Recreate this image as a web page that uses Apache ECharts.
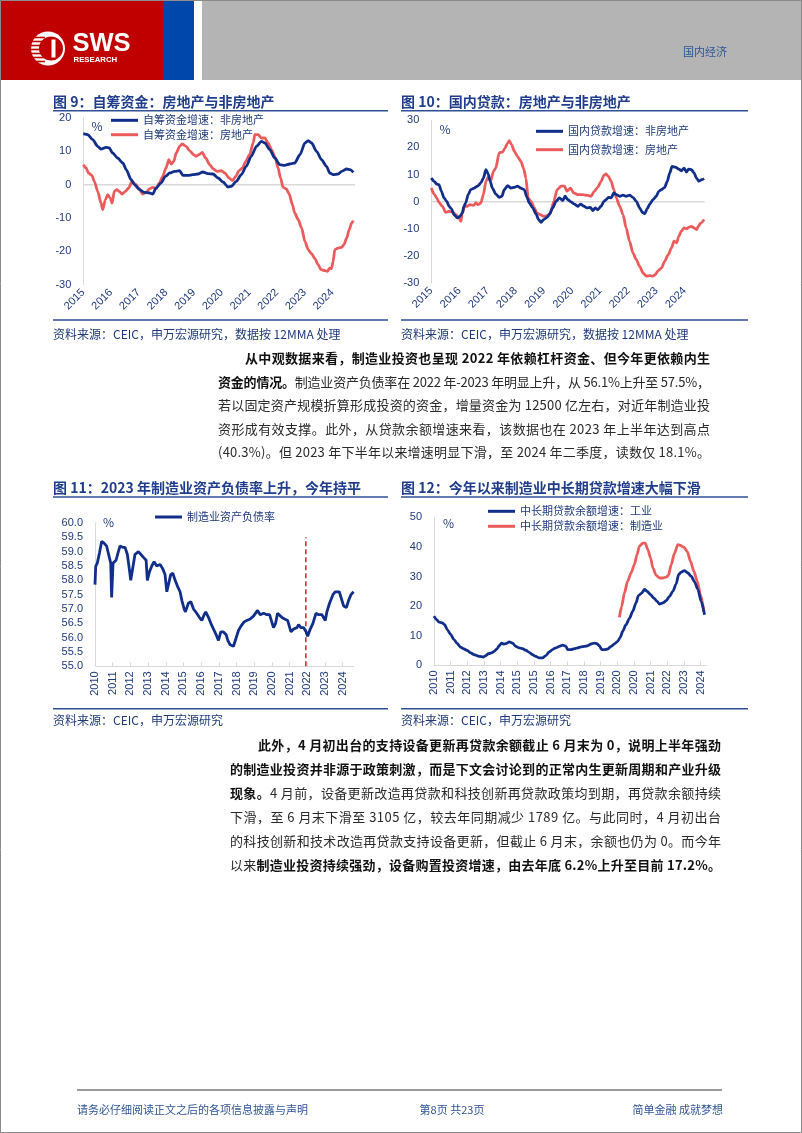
<!DOCTYPE html>
<html><head><meta charset="utf-8">
<script src="https://cdn.jsdelivr.net/npm/echarts@6/dist/echarts.min.js"></script>
<style>
html,body{margin:0;padding:0;background:#fff;}
#page{position:relative;width:802px;height:1133px;overflow:hidden;background:#fff;}
#chart{position:absolute;left:0;top:0;width:802px;height:1133px;}
.ln{position:absolute;height:20px;line-height:20px;font-family:"Noto Sans CJK SC",sans-serif;font-size:13px;color:#2a2a2a;white-space:nowrap;}
.ln b{font-weight:700;color:#111;}
</style></head><body>
<div id="page">
<div id="chart"></div>
<div class="ln" data-w="465" style="left:245px;top:348px;"><b>从中观数据来看，制造业投资也呈现 2022 年依赖杠杆资金、但今年更依赖内生</b></div>
<div class="ln" data-w="492" style="left:218px;top:371.5px;"><b>资金的情况。</b>制造业资产负债率在 2022 年-2023 年明显上升，从 56.1%上升至 57.5%，</div>
<div class="ln" data-w="492" style="left:218px;top:395px;">若以固定资产规模折算形成投资的资金，增量资金为 12500 亿左右，对近年制造业投</div>
<div class="ln" data-w="492" style="left:218px;top:418.5px;">资形成有效支撑。此外，从贷款余额增速来看，该数据也在 2023 年上半年达到高点</div>
<div class="ln" data-w="492" style="left:218px;top:442px;">(40.3%)。但 2023 年下半年以来增速明显下滑，至 2024 年二季度，读数仅 18.1%。</div>

<div class="ln" data-w="463" style="left:258px;top:735px;"><b>此外，4 月初出台的支持设备更新再贷款余额截止 6 月末为 0，说明上半年强劲</b></div>
<div class="ln" data-w="491" style="left:230px;top:759px;"><b>的制造业投资并非源于政策刺激，而是下文会讨论到的正常内生更新周期和产业升级</b></div>
<div class="ln" data-w="491" style="left:230px;top:783px;"><b>现象。</b>4 月前，设备更新改造再贷款和科技创新再贷款政策均到期，再贷款余额持续</div>
<div class="ln" data-w="491" style="left:230px;top:807px;">下滑，至 6 月末下滑至 3105 亿，较去年同期减少 1789 亿。与此同时，4 月初出台</div>
<div class="ln" data-w="491" style="left:230px;top:831px;">的科技创新和技术改造再贷款支持设备更新，但截止 6 月末，余额也仍为 0。而今年</div>
<div class="ln" data-w="491" style="left:230px;top:855px;">以来<b>制造业投资持续强劲，设备购置投资增速，由去年底 6.2%上升至目前 17.2%。</b></div>
</div>
<script>
// ---------- DATA ----------
// Fig 9: self-raised funds growth (%), [decimal year, value]
const C9_NONRE = [[2015.00,15.3],[2015.16,15.0],[2015.34,13.5],[2015.52,11.5],[2015.64,10.7],[2015.82,11.2],[2015.94,11.0],[2016.06,9.5],[2016.24,8.0],[2016.43,6.5],[2016.55,4.5],[2016.73,1.5],[2016.85,0.0],[2017.03,-1.5],[2017.21,-2.3],[2017.39,-2.5],[2017.51,-2.8],[2017.63,-1.0],[2017.81,0.5],[2017.97,2.5],[2018.12,3.5],[2018.30,4.0],[2018.48,4.2],[2018.60,2.8],[2018.78,2.8],[2018.96,3.0],[2019.14,3.2],[2019.32,3.8],[2019.50,3.3],[2019.69,3.2],[2019.87,2.0],[2020.05,0.8],[2020.23,-0.7],[2020.35,-0.5],[2020.53,1.0],[2020.71,3.0],[2020.89,5.5],[2021.07,8.5],[2021.26,11.5],[2021.44,13.0],[2021.56,12.5],[2021.74,10.5],[2021.92,8.0],[2022.10,6.0],[2022.28,5.8],[2022.46,6.2],[2022.64,6.5],[2022.83,9.0],[2023.01,12.5],[2023.13,13.2],[2023.25,12.5],[2023.43,10.0],[2023.61,7.5],[2023.79,5.5],[2023.91,3.5],[2024.03,3.0],[2024.21,3.2],[2024.34,4.0],[2024.52,4.7],[2024.64,4.5],[2024.76,3.7]];
const C9_RE = [[2015.00,6.0],[2015.10,5.0],[2015.19,3.5],[2015.31,2.8],[2015.40,1.0],[2015.52,-2.0],[2015.64,-5.5],[2015.70,-7.5],[2015.80,-4.5],[2015.88,-3.0],[2015.97,-4.0],[2016.04,-5.5],[2016.12,-2.0],[2016.21,-1.5],[2016.30,-2.0],[2016.40,-2.8],[2016.52,-2.0],[2016.64,-1.0],[2016.76,1.0],[2016.88,0.2],[2017.00,-1.0],[2017.15,-2.8],[2017.27,-2.3],[2017.39,-1.3],[2017.51,-0.8],[2017.63,-1.2],[2017.75,0.5],[2017.87,2.5],[2017.99,5.0],[2018.09,7.5],[2018.18,6.2],[2018.27,7.0],[2018.36,9.5],[2018.48,11.5],[2018.57,12.2],[2018.72,11.5],[2018.84,10.2],[2018.99,9.0],[2019.08,8.5],[2019.18,9.0],[2019.30,9.7],[2019.42,8.0],[2019.57,6.0],[2019.69,4.8],[2019.83,4.0],[2019.99,4.2],[2020.11,3.5],[2020.27,2.0],[2020.39,1.2],[2020.51,2.5],[2020.63,4.2],[2020.75,5.0],[2020.87,7.0],[2021.01,9.0],[2021.14,12.5],[2021.20,15.0],[2021.32,15.0],[2021.44,14.0],[2021.56,14.0],[2021.68,12.5],[2021.80,10.5],[2021.92,8.5],[2022.04,5.0],[2022.13,2.0],[2022.22,-0.8],[2022.34,-1.3],[2022.44,-2.8],[2022.56,-6.0],[2022.64,-8.5],[2022.77,-10.5],[2022.89,-13.0],[2023.01,-17.0],[2023.13,-19.5],[2023.25,-20.7],[2023.37,-22.2],[2023.49,-24.0],[2023.59,-25.5],[2023.73,-25.8],[2023.82,-26.0],[2023.91,-25.0],[2023.97,-25.2],[2024.03,-23.0],[2024.09,-19.5],[2024.21,-19.0],[2024.34,-18.8],[2024.42,-18.0],[2024.52,-16.0],[2024.61,-13.5],[2024.70,-11.5],[2024.76,-10.8]];
// Fig 10: domestic loans growth (%)
const C10_NONRE = [[2015.00,8.7],[2015.10,7.5],[2015.19,6.5],[2015.27,6.3],[2015.36,3.8],[2015.45,1.4],[2015.55,0.1],[2015.63,-1.7],[2015.71,-2.6],[2015.81,-4.8],[2015.93,-6.0],[2016.02,-5.4],[2016.10,-4.2],[2016.16,-1.7],[2016.22,-0.5],[2016.31,2.6],[2016.40,4.4],[2016.52,5.0],[2016.64,5.7],[2016.76,6.9],[2016.85,8.7],[2016.94,11.8],[2017.02,10.2],[2017.09,7.5],[2017.17,5.0],[2017.29,2.8],[2017.41,1.6],[2017.51,2.0],[2017.59,4.4],[2017.71,5.9],[2017.83,5.0],[2017.95,5.3],[2018.06,5.7],[2018.18,5.0],[2018.30,4.4],[2018.40,1.6],[2018.48,-0.5],[2018.60,-2.3],[2018.72,-4.5],[2018.81,-6.6],[2018.90,-7.6],[2018.99,-6.6],[2019.11,-5.8],[2019.19,-4.8],[2019.31,-2.3],[2019.43,0.1],[2019.55,1.4],[2019.67,0.4],[2019.75,2.0],[2019.85,0.7],[2019.96,-0.1],[2020.08,-0.9],[2020.20,-1.7],[2020.30,-0.9],[2020.42,-1.7],[2020.53,-2.3],[2020.65,-2.1],[2020.74,-3.3],[2020.82,-2.3],[2020.91,-3.0],[2021.03,-1.7],[2021.13,0.1],[2021.21,0.7],[2021.29,1.6],[2021.39,1.4],[2021.48,3.2],[2021.57,2.6],[2021.69,2.0],[2021.81,2.4],[2021.92,2.0],[2022.04,2.4],[2022.16,1.6],[2022.28,0.1],[2022.40,-2.3],[2022.49,-3.9],[2022.58,-4.5],[2022.67,-2.6],[2022.76,-0.9],[2022.87,0.7],[2022.99,2.0],[2023.08,3.8],[2023.17,4.4],[2023.29,5.3],[2023.38,7.5],[2023.47,10.6],[2023.55,13.0],[2023.67,12.7],[2023.79,12.0],[2023.88,11.4],[2023.98,12.4],[2024.06,10.9],[2024.14,12.0],[2024.24,11.8],[2024.33,10.6],[2024.42,8.7],[2024.50,7.5],[2024.60,8.1],[2024.69,8.5]];
const C10_RE = [[2015.00,5.0],[2015.10,2.8],[2015.19,1.4],[2015.27,-0.2],[2015.39,-1.7],[2015.51,-3.9],[2015.63,-3.6],[2015.75,-3.8],[2015.87,-4.8],[2015.99,-6.0],[2016.05,-7.3],[2016.10,-4.2],[2016.19,-1.7],[2016.28,-1.7],[2016.38,-1.1],[2016.50,-1.4],[2016.58,-0.5],[2016.66,-1.1],[2016.76,-0.5],[2016.85,2.6],[2016.94,7.5],[2017.02,9.0],[2017.11,7.7],[2017.21,11.2],[2017.29,12.4],[2017.41,18.0],[2017.53,18.3],[2017.61,19.6],[2017.71,21.6],[2017.77,22.5],[2017.85,21.0],[2017.95,18.6],[2018.06,16.7],[2018.18,14.9],[2018.28,12.2],[2018.36,8.7],[2018.44,1.4],[2018.54,0.1],[2018.66,-2.3],[2018.75,-4.2],[2018.87,-4.8],[2018.99,-5.4],[2019.11,-5.2],[2019.23,-4.2],[2019.35,0.1],[2019.47,4.4],[2019.61,5.7],[2019.73,5.7],[2019.82,3.8],[2019.94,5.0],[2020.06,3.2],[2020.20,2.6],[2020.38,2.6],[2020.56,2.3],[2020.67,2.0],[2020.79,3.8],[2020.91,5.3],[2021.03,7.5],[2021.13,9.7],[2021.21,10.2],[2021.29,9.3],[2021.39,7.5],[2021.48,4.4],[2021.57,1.4],[2021.69,-1.7],[2021.81,-4.8],[2021.92,-9.7],[2022.04,-14.6],[2022.16,-18.9],[2022.28,-21.4],[2022.40,-23.9],[2022.52,-26.3],[2022.64,-27.5],[2022.76,-27.3],[2022.87,-27.5],[2022.96,-26.9],[2023.05,-25.5],[2023.17,-24.5],[2023.29,-22.0],[2023.41,-19.6],[2023.53,-17.1],[2023.62,-14.6],[2023.71,-15.2],[2023.79,-12.8],[2023.88,-10.9],[2023.98,-9.7],[2024.06,-10.0],[2024.14,-9.5],[2024.24,-9.1],[2024.33,-9.7],[2024.42,-10.3],[2024.48,-9.1],[2024.57,-7.9],[2024.69,-6.6]];
// Fig 11: manufacturing asset-liability ratio (%)
const C11_RATIO = [[2010.00,57.85],[2010.04,58.49],[2010.13,58.6],[2010.25,58.95],[2010.38,59.36],[2010.51,59.3],[2010.66,59.19],[2010.81,58.8],[2010.89,58.6],[2010.94,57.4],[2011.02,58.6],[2011.19,58.7],[2011.32,59.0],[2011.42,59.2],[2011.57,59.15],[2011.70,59.15],[2011.83,58.9],[2011.94,58.4],[2012.02,58.0],[2012.13,57.95],[2012.26,58.9],[2012.45,59.0],[2012.60,58.9],[2012.74,58.8],[2012.89,58.7],[2012.96,58.0],[2013.08,58.3],[2013.21,58.5],[2013.34,58.65],[2013.49,58.5],[2013.68,58.55],[2013.83,58.4],[2013.96,58.2],[2014.06,57.6],[2014.15,57.6],[2014.28,58.2],[2014.40,58.25],[2014.53,58.0],[2014.66,57.8],[2014.81,57.6],[2014.91,57.3],[2015.04,57.0],[2015.11,56.9],[2015.28,57.2],[2015.42,57.25],[2015.57,57.0],[2015.75,56.85],[2015.91,56.7],[2016.04,56.6],[2016.17,56.8],[2016.26,56.9],[2016.42,56.7],[2016.55,56.5],[2016.70,56.3],[2016.85,56.1],[2016.98,55.9],[2017.11,56.2],[2017.26,56.2],[2017.42,56.1],[2017.51,55.9],[2017.64,55.75],[2017.83,55.7],[2017.92,55.75],[2018.11,56.25],[2018.25,56.4],[2018.43,56.55],[2018.58,56.6],[2018.77,56.65],[2018.96,56.75],[2019.19,56.95],[2019.34,56.8],[2019.53,56.85],[2019.72,56.8],[2019.87,56.8],[2020.09,56.35],[2020.21,56.5],[2020.32,56.85],[2020.43,56.9],[2020.57,56.7],[2020.72,56.65],[2020.89,56.6],[2021.08,56.2],[2021.23,56.3],[2021.42,56.35],[2021.51,56.45],[2021.64,56.35],[2021.79,56.35],[2021.94,56.2],[2022.02,56.05],[2022.17,56.3],[2022.32,56.5],[2022.49,56.85],[2022.64,56.8],[2022.83,56.8],[2022.92,56.85],[2023.02,56.6],[2023.11,56.9],[2023.26,57.2],[2023.45,57.5],[2023.58,57.6],[2023.81,57.6],[2023.91,57.6],[2024.06,57.1],[2024.21,57.05],[2024.34,57.3],[2024.47,57.5],[2024.62,57.6]];
const C11_DIVIDER = [[2021.92,55.0],[2021.92,59.5]];
// Fig 12: medium/long-term loan balance growth (%), x = label slot index
const C12_TICKS = ['2010','2011','2012','2013','2014','2015','2015','2016','2017','2018','2019','2020','2020','2021','2022','2023','2024'];
const C12_IND = [[0.00,16.6],[0.16,15.4],[0.30,14.6],[0.50,14.3],[0.64,13.7],[0.80,12.0],[1.00,10.4],[1.20,8.7],[1.40,7.3],[1.60,6.1],[1.80,5.5],[2.00,5.0],[2.20,4.2],[2.40,3.6],[2.71,3.0],[2.97,2.8],[3.11,3.3],[3.25,3.9],[3.45,4.2],[3.61,4.7],[3.77,5.5],[3.91,6.6],[4.05,7.5],[4.17,7.2],[4.31,7.3],[4.51,7.9],[4.71,7.5],[4.91,6.4],[5.11,5.9],[5.31,5.6],[5.51,5.1],[5.71,4.4],[5.91,3.6],[6.11,3.0],[6.31,2.5],[6.51,2.5],[6.71,3.3],[6.91,4.5],[7.11,5.3],[7.31,5.9],[7.52,6.4],[7.72,6.8],[7.92,6.4],[8.02,5.3],[8.22,5.3],[8.42,5.6],[8.62,5.9],[8.82,6.2],[9.02,6.4],[9.22,6.6],[9.42,7.2],[9.62,7.5],[9.78,7.3],[9.92,6.6],[10.06,5.3],[10.22,5.3],[10.42,5.5],[10.62,6.4],[10.82,7.2],[11.02,8.1],[11.18,9.5],[11.32,11.5],[11.52,13.7],[11.72,15.8],[11.92,18.2],[12.12,21.1],[12.26,23.5],[12.46,24.4],[12.63,25.6],[12.79,25.0],[12.99,23.9],[13.19,22.7],[13.39,21.6],[13.53,20.7],[13.73,21.1],[13.93,21.8],[14.13,23.3],[14.33,25.0],[14.53,27.5],[14.67,30.6],[14.83,31.5],[15.03,32.0],[15.23,31.2],[15.43,30.1],[15.63,28.2],[15.83,25.6],[16.03,21.6],[16.23,17.1]];
const C12_MFG = [[11.12,16.2],[11.26,19.9],[11.42,24.4],[11.62,28.4],[11.82,31.2],[12.02,34.0],[12.18,37.4],[12.32,40.2],[12.53,41.3],[12.67,41.3],[12.83,39.1],[12.99,36.3],[13.13,32.9],[13.33,30.4],[13.53,29.5],[13.73,29.5],[13.93,29.8],[14.07,30.4],[14.23,34.0],[14.43,37.9],[14.63,40.8],[14.79,40.5],[14.99,39.9],[15.19,38.5],[15.39,35.1],[15.59,31.8],[15.79,28.4],[15.99,23.9],[16.19,18.2]];

const X9 = [2015, 2024.82], X10 = [2015, 2024.71], X11 = [2010, 2024.62], X12 = [0, 16.33];

// ---------- STYLE ----------
const LAT = '"Liberation Sans","Noto Sans CJK SC",sans-serif';
const CJK = '"Noto Sans CJK SC","Liberation Sans",sans-serif';
const NAVY = '#102e8a', CORAL = '#ec5b5b', LBL = '#1f3b7c', AX = '#d9d9d9';
const TITLE = '#1f3d8c', RULE = '#2f4f96', FOOT = '#2f5597';

const isInt = v => Math.abs(v - Math.round(v)) < 1e-6;

function yAxis(gi, min, max, interval, fmt) {
  return { type: 'value', gridIndex: gi, min, max, interval,
    axisLine: { show: true, lineStyle: { color: AX, width: 1 } },
    axisTick: { show: false }, splitLine: { show: false },
    axisLabel: { color: LBL, fontSize: 11, fontFamily: LAT, margin: 12, formatter: fmt } };
}
function xAxis(gi, ext, rotate, margin, fmt, showLine) {
  return { type: 'value', gridIndex: gi, min: ext[0], max: ext[1], interval: 1,
    axisLine: { show: !!showLine, onZero: false, lineStyle: { color: AX, width: 1 } },
    axisTick: { show: !!showLine, inside: true, length: 4, lineStyle: { color: AX } },
    splitLine: { show: false },
    axisLabel: { color: LBL, fontSize: 11, fontFamily: LAT, rotate, margin,
      showMaxLabel: false, formatter: fmt } };
}
function line(name, gi, data, color, extra) {
  return Object.assign({ name, type: 'line', xAxisIndex: gi, yAxisIndex: gi, data,
    showSymbol: false, symbol: 'none', smooth: 0.25, smoothMonotone: 'x',
    lineStyle: { color, width: 2.8 }, itemStyle: { color }, z: 3, silent: true }, extra || {});
}
function legend(name, left, cy) {
  return { data: [name], left, top: cy - 7, padding: 0, orient: 'horizontal',
    icon: 'rect', itemWidth: 27, itemHeight: 3, selectedMode: false,
    textStyle: { fontSize: 11, color: LBL, fontFamily: CJK, lineHeight: 14 } };
}
function txt(text, x, y, size, color) {
  return { type: 'text', x, y, silent: true,
    style: { text, fontSize: size, fontFamily: CJK, fill: color, align: 'left', verticalAlign: 'middle' } };
}
function btxt(text, x, y) {
  return { type: 'text', x, y, silent: true,
    style: { text, fontSize: 14, fontWeight: 'bold', fontFamily: CJK, fill: TITLE, align: 'left', verticalAlign: 'middle' } };
}
function hline(x1, x2, y, color, w) {
  return { type: 'line', silent: true, shape: { x1, y1: y, x2, y2: y }, style: { stroke: color, lineWidth: w } };
}

const yearFmt = v => isInt(v) ? String(Math.round(v)) : '';
const slotFmt = v => isInt(v) ? (C12_TICKS[Math.round(v)] || '') : '';

const S9A = '自筹资金增速：非房地产', S9B = '自筹资金增速：房地产';
const S10A = '国内贷款增速：非房地产', S10B = '国内贷款增速：房地产';
const S11 = '制造业资产负债率';
const S12A = '中长期贷款余额增速：工业', S12B = '中长期贷款余额增速：制造业';

const option = {
  animation: false,
  grid: [
    { left: 83.3, top: 118, width: 271.7, height: 166.7 },
    { left: 431.3, top: 120.3, width: 273.4, height: 162.7 },
    { left: 95, top: 523, width: 258.6, height: 143.3 },
    { left: 434, top: 517.3, width: 272.2, height: 148 }
  ],
  xAxis: [
    xAxis(0, X9, 45, 6, yearFmt, false),
    xAxis(1, X10, 45, 6, yearFmt, false),
    xAxis(2, X11, 90, 5, yearFmt, true),
    xAxis(3, X12, 90, 5, slotFmt, true)
  ],
  yAxis: [
    yAxis(0, -30, 20, 10),
    yAxis(1, -30, 30, 10),
    yAxis(2, 55, 60, 0.5, v => v.toFixed(1)),
    yAxis(3, 0, 50, 10)
  ],
  legend: [
    legend(S9A, 111, 120.3), legend(S9B, 111, 134.7),
    legend(S10A, 536, 131.3), legend(S10B, 536, 149.7),
    legend(S11, 155, 517),
    legend(S12A, 488, 511.3), legend(S12B, 488, 526.3)
  ],
  series: [
    { type: 'line', xAxisIndex: 0, yAxisIndex: 0, data: [[X9[0], 0], [X9[1], 0]], symbol: 'none', silent: true, z: 1,
      lineStyle: { color: AX, width: 1.5 } },
    { type: 'line', xAxisIndex: 1, yAxisIndex: 1, data: [[X10[0], 0], [X10[1], 0]], symbol: 'none', silent: true, z: 1,
      lineStyle: { color: AX, width: 1.5 } },
    line(S9B, 0, C9_RE, CORAL),
    line(S9A, 0, C9_NONRE, NAVY),
    line(S10B, 1, C10_RE, CORAL),
    line(S10A, 1, C10_NONRE, NAVY),
    { type: 'line', xAxisIndex: 2, yAxisIndex: 2, data: C11_DIVIDER, symbol: 'none', silent: true, z: 2,
      lineStyle: { color: '#c0282d', width: 1.5, type: [5, 3] } },
    line(S11, 2, C11_RATIO, NAVY, { smooth: false }),
    line(S12B, 3, C12_MFG, CORAL),
    line(S12A, 3, C12_IND, NAVY)
  ],
  graphic: [
    // header
    { type: 'rect', silent: true, shape: { x: 0, y: 0, width: 163, height: 80 }, style: { fill: '#c00000' } },
    { type: 'rect', silent: true, shape: { x: 163, y: 0, width: 31, height: 80 }, style: { fill: '#0047ab' } },
    { type: 'rect', silent: true, shape: { x: 202, y: 0, width: 600, height: 80 }, style: { fill: '#b4b4b4' } },
    { type: 'circle', silent: true, shape: { cx: 48, cy: 48.5, r: 17 }, style: { fill: '#ffffff' } },
    { type: 'circle', silent: true, shape: { cx: 51, cy: 48.5, r: 12 }, style: { fill: '#c00000' } },
    { type: 'rect', silent: true, shape: { x: 51.5, y: 39.5, width: 4, height: 18 }, style: { fill: '#ffffff' } },
    hline(30, 45, 37.5, '#c00000', 1.6), hline(30, 45, 41.5, '#c00000', 1.6), hline(30, 45, 45.5, '#c00000', 1.6),
    hline(30, 45, 49.5, '#c00000', 1.6), hline(30, 45, 53.5, '#c00000', 1.6), hline(30, 45, 57.5, '#c00000', 1.6),
    hline(30, 45, 61.5, '#c00000', 1.6),
    { type: 'text', x: 72.5, y: 44, silent: true, style: { text: 'SWS', fontSize: 25.5, fontWeight: 'bold', fontFamily: LAT, fill: '#fff', verticalAlign: 'middle' } },
    { type: 'text', x: 73.5, y: 59.5, silent: true, style: { text: 'RESEARCH', fontSize: 7.8, fontWeight: 'bold', fontFamily: LAT, fill: '#fff', verticalAlign: 'middle' } },
    txt('国内经济', 683, 52, 11, FOOT),
    // figure titles
    btxt('图 9：自筹资金：房地产与非房地产', 53, 101.3),
    btxt('图 10：国内贷款：房地产与非房地产', 401, 101.3),
    btxt('图 11：2023 年制造业资产负债率上升，今年持平', 53, 488),
    btxt('图 12：今年以来制造业中长期贷款增速大幅下滑', 401, 488),
    hline(53, 388, 110.7, RULE, 1.5), hline(401, 748, 110.7, RULE, 1.5),
    hline(53, 388, 497, RULE, 1.5), hline(401, 748, 497, RULE, 1.5),
    hline(53, 388, 320, RULE, 1.5), hline(401, 748, 320, RULE, 1.5),
    hline(53, 388, 708.7, RULE, 1.5), hline(401, 748, 708.7, RULE, 1.5),
    // sources
    txt('资料来源：CEIC，申万宏源研究，数据按 12MMA 处理', 53, 334.7, 12, LBL),
    txt('资料来源：CEIC，申万宏源研究，数据按 12MMA 处理', 401, 334.7, 12, LBL),
    txt('资料来源：CEIC，申万宏源研究', 53, 720.5, 12, LBL),
    txt('资料来源：CEIC，申万宏源研究', 401, 720.5, 12, LBL),
    // unit labels
    txt('%', 91.5, 126.5, 12, LBL), txt('%', 439.5, 129, 12, LBL),
    txt('%', 103, 522, 12, LBL), txt('%', 443, 523, 12, LBL),
    // footer
    hline(77, 722, 1090, '#9a9a9a', 2),
    txt('请务必仔细阅读正文之后的各项信息披露与声明', 77, 1110, 11, FOOT),
    { type: 'text', x: 452, y: 1110, silent: true, style: { text: '第8页 共23页', fontSize: 11, fontFamily: CJK, fill: FOOT, align: 'center', verticalAlign: 'middle' } },
    { type: 'text', x: 723, y: 1110, silent: true, style: { text: '简单金融 成就梦想', fontSize: 11, fontFamily: CJK, fill: FOOT, align: 'right', verticalAlign: 'middle' } },
    // page frame
    { type: 'rect', silent: true, shape: { x: 0.5, y: 0.5, width: 801, height: 1132 }, style: { fill: 'none', stroke: '#8a8a8a', lineWidth: 1 } }
  ]
};

const chart = echarts.init(document.getElementById('chart'), null, { renderer: 'canvas' });
chart.setOption(option);

// justify each body-text line to its column width by spreading letter spacing
document.querySelectorAll('.ln').forEach(el => {
  const W = parseFloat(el.dataset.w);
  const nat = el.getBoundingClientRect().width;
  const n = Array.from(el.textContent).length;
  if (n > 1) el.style.letterSpacing = ((W - nat) / (n - 1)) + 'px';
});
</script>
</body></html>
